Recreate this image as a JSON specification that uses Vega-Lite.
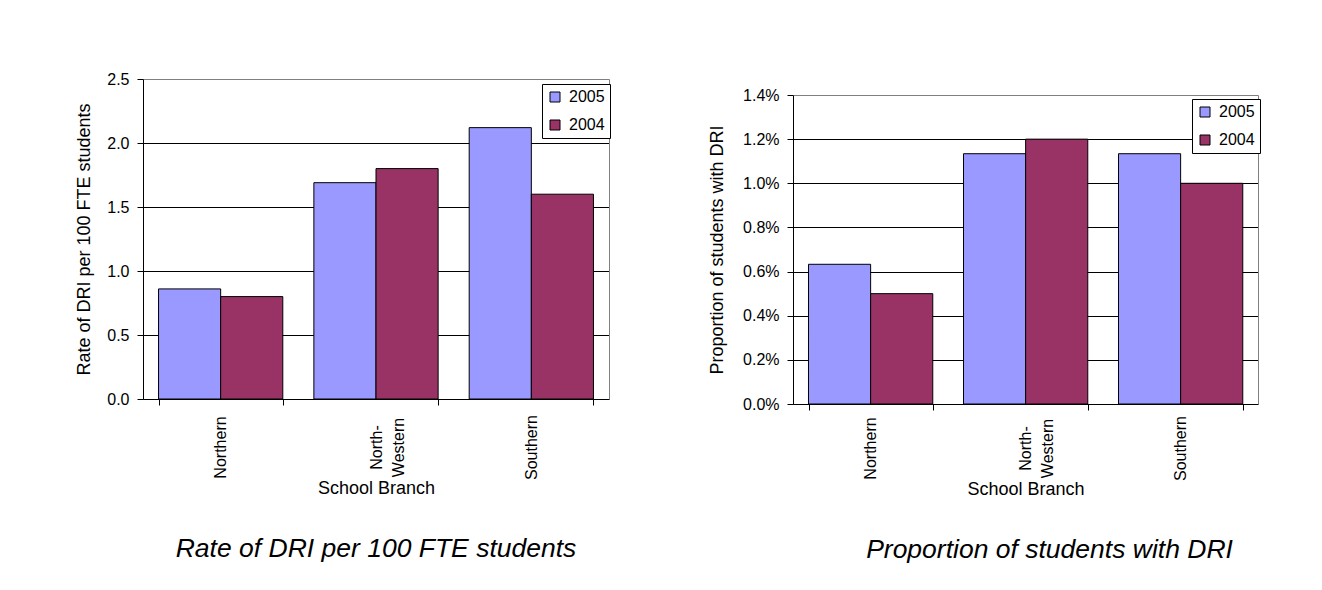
{
  "$schema": "https://vega.github.io/schema/vega-lite/v6.json",
  "background": "white",
  "padding": {"left": 75, "top": 71, "right": 0, "bottom": 0},
  "spacing": 97,
  "datasets": {
    "rate": [
      {"branch": "Northern", "year": "2005", "value": 0.86},
      {"branch": "Northern", "year": "2004", "value": 0.80},
      {"branch": "North-Western", "year": "2005", "value": 1.69},
      {"branch": "North-Western", "year": "2004", "value": 1.80},
      {"branch": "Southern", "year": "2005", "value": 2.12},
      {"branch": "Southern", "year": "2004", "value": 1.60}
    ],
    "prop": [
      {"branch": "Northern", "year": "2005", "value": 0.00633},
      {"branch": "Northern", "year": "2004", "value": 0.0050},
      {"branch": "North-Western", "year": "2005", "value": 0.01134},
      {"branch": "North-Western", "year": "2004", "value": 0.0120},
      {"branch": "Southern", "year": "2005", "value": 0.01134},
      {"branch": "Southern", "year": "2004", "value": 0.0100}
    ]
  },
  "config": {
    "font": "Liberation Sans",
    "view": {"stroke": null},
    "axis": {
      "labelColor": "black",
      "titleColor": "black",
      "labelFontSize": 16,
      "titleFontSize": 18,
      "titleFontWeight": "normal",
      "domainColor": "black",
      "tickColor": "black",
      "labelFont": "Liberation Sans",
      "titleFont": "Liberation Sans"
    },
    "legend": {
      "strokeColor": "black",
      "strokeWidth": 1,
      "fillColor": "white",
      "padding": 5,
      "symbolType": "square",
      "symbolSize": 100,
      "symbolStrokeColor": "black",
      "symbolStrokeWidth": 1,
      "symbolOpacity": 1,
      "labelFontSize": 16,
      "labelColor": "black",
      "labelFont": "Liberation Sans",
      "rowPadding": 12,
      "labelOffset": 6
    },
    "title": {"font": "Liberation Sans", "color": "black"}
  },
  "hconcat": [
    {
      "width": 466,
      "height": 320,
      "data": {"name": "rate"},
      "title": {"text": "Rate of DRI per 100 FTE students", "orient": "bottom", "anchor": "middle", "fontSize": 26.5, "fontStyle": "italic", "fontWeight": "normal", "offset": 39},
      "encoding": {
        "x": {
          "field": "branch", "type": "nominal",
          "sort": ["Northern", "North-Western", "Southern"],
          "scale": {"paddingInner": 0.2, "paddingOuter": 0.1},
          "axis": {
            "title": "School Branch",
            "labelAngle": -90,
            "labelAlign": "center",
            "labelBaseline": "middle",
            "labelPadding": 42,
            "labelLineHeight": 22,
            "labelExpr": "datum.label == 'North-Western' ? ['North-', 'Western'] : datum.label",
            "tickBand": "extent",
            "tickSize": 6,
            "titlePadding": 0,
            "grid": false
          }
        },
        "xOffset": {"field": "year", "type": "nominal", "sort": ["2005", "2004"]}
      },
      "layer": [
        {
          "mark": {"type": "bar", "stroke": "black", "strokeWidth": 1},
          "encoding": {
            "y": {
              "field": "value", "type": "quantitative",
              "scale": {"domain": [0, 2.5], "nice": false},
              "axis": {
                "title": "Rate of DRI per 100 FTE students",
                "values": [0, 0.5, 1, 1.5, 2, 2.5],
                "format": ".1f",
                "tickSize": 6,
                "labelPadding": 8,
                "titlePadding": 13,
                "grid": true,
                "gridColor": {"condition": {"test": "datum.value >= 2.49", "value": "#808080"}, "value": "black"},
                "gridOpacity": 1
              }
            },
            "color": {
              "field": "year", "type": "nominal",
              "scale": {"domain": ["2005", "2004"], "range": ["#9999FF", "#993366"]},
              "legend": {"title": null, "orient": "none", "legendX": 399, "legendY": 5}
            }
          }
        },
        {
          "mark": {"type": "bar", "opacity": 0},
          "encoding": {
            "y": {
              "field": "value", "type": "quantitative",
              "axis": {"orient": "right", "title": null, "labels": false, "ticks": false, "grid": false, "domainColor": "#808080"}
            }
          }
        }
      ],
      "resolve": {"axis": {"y": "independent"}}
    },
    {
      "width": 465,
      "height": 325,
      "data": {"name": "prop"},
      "title": {"text": "Proportion of students with DRI", "orient": "bottom", "anchor": "middle", "fontSize": 26.5, "fontStyle": "italic", "fontWeight": "normal", "offset": 39, "dx": 24},
      "encoding": {
        "x": {
          "field": "branch", "type": "nominal",
          "sort": ["Northern", "North-Western", "Southern"],
          "scale": {"paddingInner": 0.2, "paddingOuter": 0.1},
          "axis": {
            "title": "School Branch",
            "labelAngle": -90,
            "labelAlign": "center",
            "labelBaseline": "middle",
            "labelPadding": 38,
            "labelLineHeight": 22,
            "labelExpr": "datum.label == 'North-Western' ? ['North-', 'Western'] : datum.label",
            "tickBand": "extent",
            "tickSize": 6,
            "titlePadding": 0,
            "grid": false
          }
        },
        "xOffset": {"field": "year", "type": "nominal", "sort": ["2005", "2004"]}
      },
      "layer": [
        {
          "mark": {"type": "bar", "stroke": "black", "strokeWidth": 1},
          "encoding": {
            "y": {
              "field": "value", "type": "quantitative",
              "scale": {"domain": [0, 0.014], "nice": false, "range": [325, 16]},
              "axis": {
                "title": "Proportion of students with DRI",
                "values": [0, 0.002, 0.004, 0.006, 0.008, 0.01, 0.012, 0.014],
                "format": ".1%",
                "tickSize": 6,
                "labelPadding": 8,
                "titlePadding": 16,
                "grid": true,
                "gridColor": {"condition": {"test": "datum.value >= 0.0139", "value": "#808080"}, "value": "black"},
                "gridOpacity": 1
              }
            },
            "color": {
              "field": "year", "type": "nominal",
              "scale": {"domain": ["2005", "2004"], "range": ["#9999FF", "#993366"]},
              "legend": {"title": null, "orient": "none", "legendX": 399, "legendY": 20}
            }
          }
        },
        {
          "mark": {"type": "bar", "opacity": 0},
          "encoding": {
            "y": {
              "field": "value", "type": "quantitative",
              "axis": {"orient": "right", "title": null, "labels": false, "ticks": false, "grid": false, "domainColor": "#808080"}
            }
          }
        }
      ],
      "resolve": {"axis": {"y": "independent"}}
    }
  ],
  "resolve": {"scale": {"color": "independent"}}
}
